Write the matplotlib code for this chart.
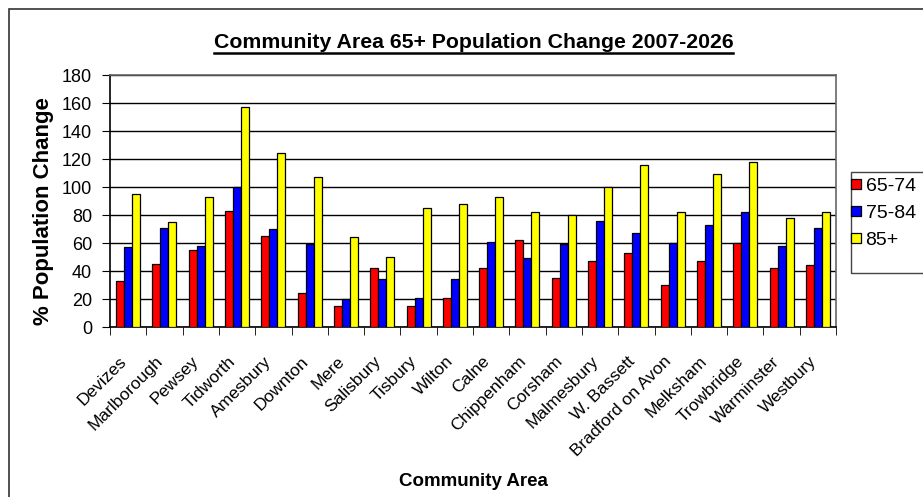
import matplotlib.pyplot as plt
import matplotlib.transforms as mtransforms
import numpy as np
from matplotlib.patches import Rectangle
from matplotlib.lines import Line2D

plt.rcParams['font.family'] = ['Liberation Sans', 'DejaVu Sans']

# Werte
areas = ['Devizes', 'Marlborough', 'Pewsey', 'Tidworth', 'Amesbury', 'Downton',
         'Mere', 'Salisbury', 'Tisbury', 'Wilton', 'Calne', 'Chippenham',
         'Corsham', 'Malmesbury', 'W. Bassett', 'Bradford on Avon', 'Melksham',
         'Trowbridge', 'Warminster', 'Westbury']
age_65_74 = [33, 45, 55, 83, 65, 24, 15, 42, 15, 21, 42, 62, 35, 47, 53, 30, 47, 60, 42, 44]
age_75_84 = [57, 71, 58, 100, 70, 59, 20, 34, 21, 34, 61, 49, 59, 76, 67, 60, 73, 82, 58, 71]
age_85_plus = [95, 75, 93, 157, 124, 107, 64, 50, 85, 88, 93, 82, 80, 100, 116, 82, 109, 118, 78, 82]
series_labels = ['65-74', '75-84', '85+']
y_ticks = np.arange(0, 181, 20)

W, H = 923, 497
fig = plt.figure(figsize=(W / 100, H / 100), dpi=100)

# Rahmen um die Grafik
fig.patches.append(Rectangle((9 / W, -0.1), 1.1, (H - 9) / H + 0.1,
                             transform=fig.transFigure, fill=False,
                             edgecolor='#333333', linewidth=1.2))

ax = fig.add_axes([110 / W, (H - 327) / H, (836 - 110) / W, (327 - 75) / H])

x = np.arange(len(areas))
w = 0.22
colors = ['#ff0000', '#0000ff', '#ffff00']
for i, (vals, col, lab) in enumerate(zip([age_65_74, age_75_84, age_85_plus], colors, series_labels)):
    ax.bar(x + (i - 1) * w, vals, width=w, color=col, edgecolor='black',
           linewidth=0.9, label=lab, zorder=3)

ax.set_xlim(-0.5, len(areas) - 0.5)
ax.set_ylim(0, 180)
ax.set_yticks(y_ticks)
ax.tick_params(axis='y', labelsize=13, length=5.8, pad=7, direction='out')
ax.yaxis.grid(True, color='black', linewidth=1, zorder=0)

ax.set_xticks(x)
ax.set_xticklabels(areas, rotation=45, ha='right', va='center',
                   rotation_mode='anchor', fontsize=12.5)
ax.tick_params(axis='x', length=0, pad=23)
shift = mtransforms.ScaledTranslation(-4 / 100, 0, fig.dpi_scale_trans)
for lbl in ax.get_xticklabels():
    lbl.set_transform(lbl.get_transform() + shift)
ax.set_xticks(np.arange(-0.5, len(areas), 1), minor=True)
ax.tick_params(axis='x', which='minor', length=5.5, direction='out')

for s in ['top', 'right']:
    ax.spines[s].set_color('#666666')
    ax.spines[s].set_linewidth(1.2)
ax.spines['left'].set_linewidth(1.2)
ax.spines['bottom'].set_linewidth(1.2)

fig.text(44 / W, 1 - 211 / H, '% Population Change', rotation=90,
         ha='center', va='center', fontsize=16, fontweight='bold')
fig.text(473.5 / W, 1 - 481 / H, 'Community Area', ha='center', va='center',
         fontsize=13.5, fontweight='bold')

title = fig.text(473.5 / W, 1 - 43 / H, 'Community Area 65+ Population Change 2007-2026',
                 ha='center', va='center', fontsize=15.3, fontweight='bold')
# Unterstreichung des Titels
fig.canvas.draw()
bb = title.get_window_extent()
fig.add_artist(plt.Line2D([bb.x0 / W, bb.x1 / W], [1 - 53 / H, 1 - 53 / H],
                          color='black', linewidth=1.8, transform=fig.transFigure))

# Legende mit eigenem Rahmen
fig.patches.append(Rectangle((851 / W, 1 - 273 / H), 0.2, 101 / H,
                             transform=fig.transFigure, fill=False,
                             edgecolor='#444444', linewidth=1))
handles = [Line2D([], [], marker='s', linestyle='none', markersize=7,
                  markerfacecolor=c, markeredgecolor='black', markeredgewidth=0.9)
           for c in colors]
leg = fig.legend(handles, series_labels, loc='upper left',
                 bbox_to_anchor=(851 / W, 1 - 177 / H),
                 fontsize=14, frameon=False, borderpad=0, borderaxespad=0,
                 handlelength=0.55, handletextpad=0.2, labelspacing=0.5)

fig.savefig('out.png', dpi=100)
